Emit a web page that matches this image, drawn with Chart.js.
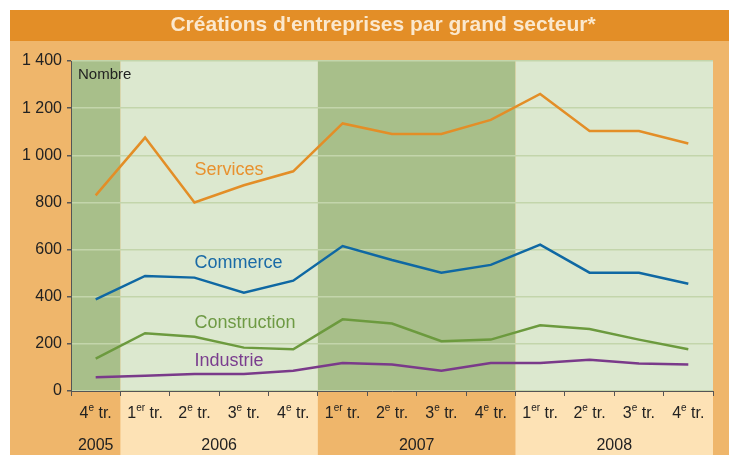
<!DOCTYPE html>
<html>
<head>
<meta charset="utf-8">
<script src="https://cdn.jsdelivr.net/npm/chart.js@4"></script>
<style>
  body { margin: 0; background: #fff; }
  #wrap { width: 736px; height: 455px; }
</style>
</head>
<body>
<div id="wrap"><canvas id="chart" width="736" height="455"></canvas></div>
<script>
// catégories (trimestres) et années
const categories = ['4e tr.', '1er tr.', '2e tr.', '3e tr.', '4e tr.', '1er tr.', '2e tr.', '3e tr.', '4e tr.', '1er tr.', '2e tr.', '3e tr.', '4e tr.'];
const years = ['2005', '2006', '2007', '2008'];
const yearSpans = [1, 4, 4, 4];

// séries
const services = [830, 1075, 800, 873, 932, 1135, 1090, 1090, 1150, 1260, 1103, 1103, 1050];
const commerce = [389, 488, 481, 417, 468, 615, 556, 502, 535, 621, 502, 502, 455];
const construction = [137, 245, 230, 184, 177, 304, 286, 211, 218, 279, 263, 218, 177];
const industrie = [58, 65, 72, 72, 86, 119, 112, 86, 119, 119, 133, 117, 112];

const FONT = "'Liberation Sans Narrow', 'Liberation Sans', Arial, sans-serif";

// fonds, bandes et textes dessinés autour du graphique
const decor = {
    id: 'decor',
    beforeDraw(chart) {
        const ctx = chart.ctx;
        const area = chart.chartArea;
        const x = chart.scales.x;
        const w = (x.right - x.left) / categories.length;
        ctx.save();
        ctx.fillStyle = '#ffffff';
        ctx.fillRect(0, 0, chart.width, chart.height);
        ctx.fillStyle = '#EFB66B';
        ctx.fillRect(10, 41, 719, 414);
        ctx.fillStyle = '#E38E27';
        ctx.fillRect(10, 10, 719, 31);

        let start = 0;
        years.forEach((yr, i) => {
            const x0 = x.left + start * w;
            const x1 = x0 + yearSpans[i] * w;
            const dark = i % 2 === 0;
            ctx.fillStyle = dark ? '#A8BF8A' : '#DCE8CF';
            ctx.fillRect(x0, area.top, x1 - x0, area.bottom - area.top);
            ctx.fillStyle = dark ? '#EFB66B' : '#FDE2B5';
            ctx.fillRect(x0, area.bottom, x1 - x0, chart.height - area.bottom);
            start += yearSpans[i];
        });
        ctx.restore();
    },
    afterDraw(chart) {
        const ctx = chart.ctx;
        const x = chart.scales.x;
        const y = chart.scales.y;
        const w = (x.right - x.left) / categories.length;
        ctx.save();

        // titre
        ctx.fillStyle = '#FBE8CD';
        ctx.font = "bold 21px 'Liberation Sans', Arial, sans-serif";
        ctx.textAlign = 'center';
        ctx.textBaseline = 'middle';
        ctx.fillText("Créations d'entreprises par grand secteur*", 383, 25);

        // unité
        ctx.fillStyle = '#222';
        ctx.font = '15px ' + FONT;
        ctx.textAlign = 'left';
        ctx.fillText('Nombre', 78, 75);

        // étiquettes des séries
        ctx.font = '18px ' + FONT;
        const lx = x.left + 2.5 * w;
        [['Services', 938, '#E8912E'], ['Commerce', 543, '#1A6AA6'],
         ['Construction', 289, '#6E9A44'], ['Industrie', 127, '#7A3D8E']].forEach(([t, v, c]) => {
            ctx.fillStyle = c;
            ctx.fillText(t, lx, y.getPixelForValue(v));
        });

        // trimestres avec exposant
        ctx.fillStyle = '#222';
        categories.forEach((lab, i) => {
            const m = lab.match(/^(\d)(\D+?) (tr\.)$/);
            const cx = x.left + (i + 0.5) * w;
            ctx.font = '16px ' + FONT;
            const a = ctx.measureText(m[1]).width;
            const c = ctx.measureText(' ' + m[3]).width;
            ctx.font = '10px ' + FONT;
            const b = ctx.measureText(m[2]).width;
            const px = cx - (a + b + c) / 2;
            ctx.textAlign = 'left';
            ctx.font = '16px ' + FONT;
            ctx.fillText(m[1], px, 414);
            ctx.font = '10px ' + FONT;
            ctx.fillText(m[2], px + a, 408);
            ctx.font = '16px ' + FONT;
            ctx.fillText(' ' + m[3], px + a + b, 414);
        });

        // années
        ctx.textAlign = 'center';
        ctx.font = '16px ' + FONT;
        let start = 0;
        years.forEach((yr, i) => {
            const cx = x.left + (start + yearSpans[i] / 2) * w;
            ctx.fillText(yr, cx, 446);
            start += yearSpans[i];
        });
        ctx.restore();
    }
};

function line(label, data, color) {
    return {
        label: label,
        data: data,
        borderColor: color,
        borderWidth: 2.5,
        pointRadius: 0,
        tension: 0,
        fill: false
    };
}

new Chart(document.getElementById('chart'), {
    type: 'line',
    data: {
        labels: categories,
        datasets: [
            line('Services', services, '#E38E27'),
            line('Commerce', commerce, '#0F68A3'),
            line('Construction', construction, '#6C9A3E'),
            line('Industrie', industrie, '#7A3A8A')
        ]
    },
    options: {
        responsive: false,
        animation: false,
        layout: { padding: { left: 10, top: 61, right: 23, bottom: 0 } },
        plugins: {
            legend: { display: false },
            tooltip: { enabled: false }
        },
        scales: {
            x: {
                offset: true,
                grid: { offset: true, drawOnChartArea: false, tickLength: 5, tickColor: '#555' },
                border: { color: '#555', width: 1 },
                ticks: { display: false },
                afterFit: (s) => { s.height = 64; }
            },
            y: {
                min: 0,
                max: 1400,
                ticks: {
                    stepSize: 200,
                    color: '#222',
                    padding: 5,
                    font: { family: FONT, size: 16 },
                    callback: (v) => v.toString().replace(/\B(?=(\d{3})+(?!\d))/g, ' ')
                },
                grid: { color: '#C3D5AB', lineWidth: 1.5, tickLength: 4, tickColor: '#555' },
                border: { color: '#555', width: 1 },
                afterFit: (s) => { s.width = 61; }
            }
        }
    },
    plugins: [decor]
});
</script>
</body>
</html>
